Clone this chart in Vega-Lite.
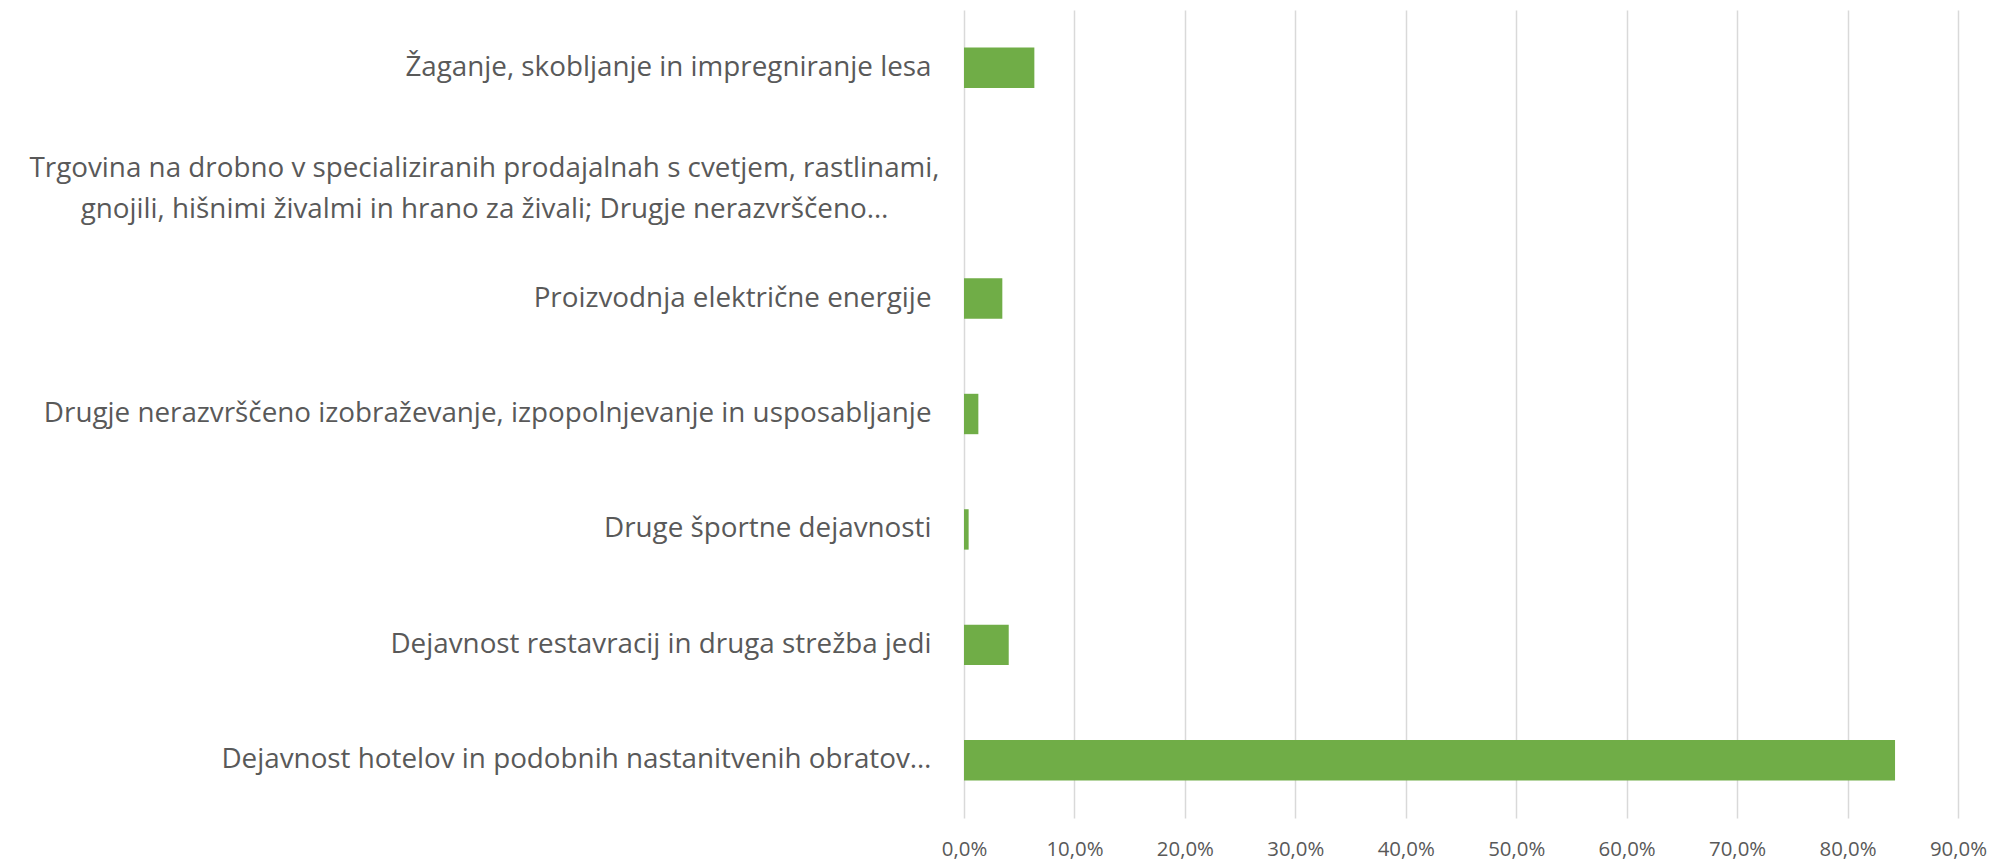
{
  "$schema": "https://vega.github.io/schema/vega-lite/v6.json",
  "width": 994,
  "height": 808,
  "autosize": "none",
  "padding": {"left": 964, "top": 10, "right": 45, "bottom": 42},
  "background": "white",
  "data": {
    "values": [
      {"dejavnost": "Žaganje, skobljanje in impregniranje lesa", "delez": 0.0637},
      {"dejavnost": "Trgovina na drobno v specializiranih prodajalnah s cvetjem, rastlinami, gnojili, hišnimi živalmi in hrano za živali; Drugje nerazvrščeno…", "delez": 0},
      {"dejavnost": "Proizvodnja električne energije", "delez": 0.0347},
      {"dejavnost": "Drugje nerazvrščeno izobraževanje, izpopolnjevanje in usposabljanje", "delez": 0.013},
      {"dejavnost": "Druge športne dejavnosti", "delez": 0.0042},
      {"dejavnost": "Dejavnost restavracij in druga strežba jedi", "delez": 0.0405},
      {"dejavnost": "Dejavnost hotelov in podobnih nastanitvenih obratov…", "delez": 0.843}
    ]
  },
  "mark": {"type": "bar", "color": "#70ad47"},
  "encoding": {
    "y": {
      "field": "dejavnost",
      "type": "nominal",
      "sort": null,
      "title": null,
      "scale": {"paddingInner": 0.65, "paddingOuter": 0.325},
      "axis": {
        "domain": false,
        "ticks": false,
        "grid": false,
        "labelFont": "Open Sans",
        "labelFontSize": 27.8,
        "labelColor": "#595959",
        "labelLimit": 1200,
        "labelLineHeight": 41,
        "labelAlign": {"condition": {"test": "indexof(datum.value, 'Trgovina') == 0", "value": "center"}, "value": "right"},
        "labelPadding": {"condition": {"test": "indexof(datum.value, 'Trgovina') == 0", "value": 480}, "value": 33},
        "labelOffset": {"condition": {"test": "indexof(datum.value, 'Trgovina') == 0", "value": -14}, "value": 0},
        "labelExpr": "indexof(datum.label, 'rastlinami, ') > 0 ? [substring(datum.label, 0, indexof(datum.label, 'rastlinami, ') + 11), substring(datum.label, indexof(datum.label, 'rastlinami, ') + 12)] : datum.label"
      }
    },
    "x": {
      "field": "delez",
      "type": "quantitative",
      "title": null,
      "scale": {"domain": [0, 0.9], "nice": false},
      "axis": {
        "values": [0, 0.1, 0.2, 0.3, 0.4, 0.5, 0.6, 0.7, 0.8, 0.9],
        "domain": false,
        "ticks": false,
        "grid": true,
        "gridColor": "#d9d9d9",
        "gridWidth": 1.5,
        "labelFont": "Open Sans",
        "labelFontSize": 20.4,
        "labelColor": "#595959",
        "labelPadding": 21,
        "labelFlush": false,
        "labelExpr": "replace(format(datum.value, '.1%'), '.', ',')"
      }
    }
  },
  "config": {"view": {"stroke": null}}
}
